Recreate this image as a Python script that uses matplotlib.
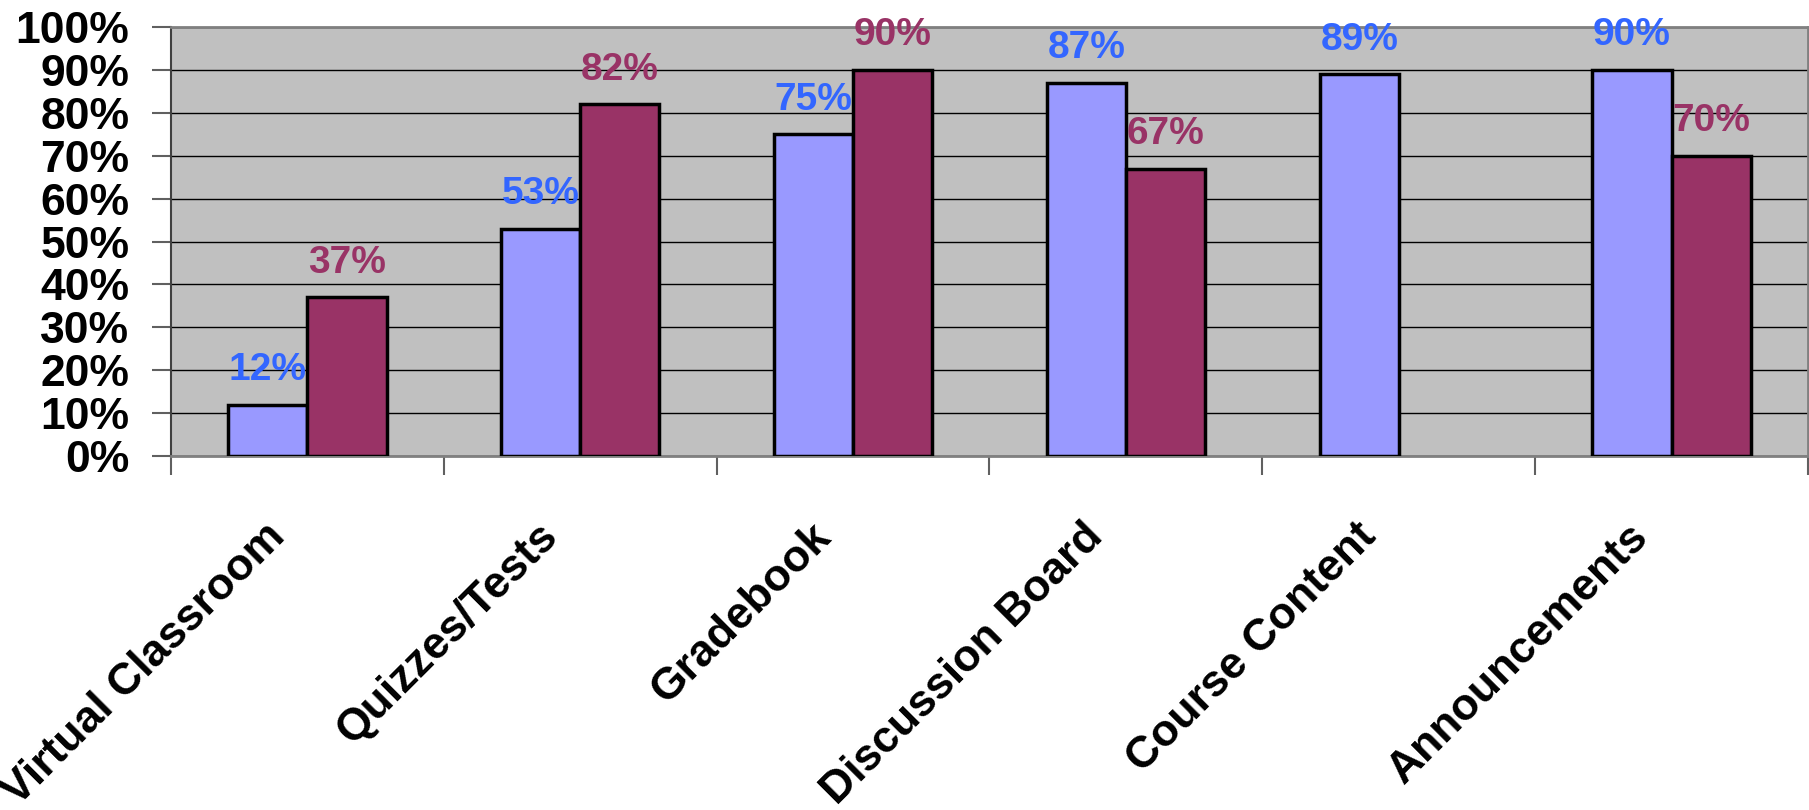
import matplotlib
matplotlib.use("Agg")
import matplotlib.pyplot as plt
import matplotlib.transforms as mtransforms
import numpy as np

categories = ["Virtual Classroom", "Quizzes/Tests", "Gradebook", "Discussion Board", "Course Content", "Announcements"]
series1 = [12, 53, 75, 87, 89, 90]
series2 = [37, 82, 90, 67, None, 70]
yticks = [0, 10, 20, 30, 40, 50, 60, 70, 80, 90, 100]
ytick_labels = [f"{v}%" for v in yticks]

plt.rcParams['font.family'] = ['Liberation Sans', 'DejaVu Sans']

fig = plt.figure(figsize=(18.09, 8.10), dpi=100)
ax = fig.add_axes([171/1809, 1 - 456/810, (1808 - 171)/1809, (456 - 27)/810])
ax.set_facecolor('#C0C0C0')

x = np.arange(len(categories))
w = 0.29
c1, c2 = '#9999FF', '#993366'
lc1, lc2 = '#3366FF', '#993366'

for i, v in enumerate(series1):
    if v is None:
        continue
    ax.bar(x[i] - w/2, v, width=w, color=c1, edgecolor='black', linewidth=2.5, zorder=3)
    ax.annotate(f"{v}%", (x[i] - w/2, v), xytext=(0, 12), textcoords='offset points',
                ha='center', va='bottom', fontsize=28, fontweight='bold', color=lc1, zorder=4)
for i, v in enumerate(series2):
    if v is None:
        continue
    ax.bar(x[i] + w/2, v, width=w, color=c2, edgecolor='black', linewidth=2.5, zorder=3)
    ax.annotate(f"{v}%", (x[i] + w/2, v), xytext=(0, 12), textcoords='offset points',
                ha='center', va='bottom', fontsize=28, fontweight='bold', color=lc2, zorder=4)

ax.set_xlim(-0.5, len(categories) - 0.5)
ax.set_ylim(0, 100)
ax.set_yticks(yticks)
ax.set_yticklabels(ytick_labels, fontsize=32, fontweight='bold')
ax.yaxis.grid(True, color='black', linewidth=1.0, zorder=1)
ax.set_axisbelow(True)

ax.set_xticks(np.arange(-0.5, len(categories), 1.0))
ax.set_xticklabels([])
ax.set_xticks(x, minor=True)
ax.set_xticklabels(categories, minor=True, rotation=45, ha='right', va='center',
                   rotation_mode='anchor', fontsize=32, fontweight='bold')
ax.tick_params(axis='x', which='minor', length=0, pad=62)
ax.tick_params(axis='x', which='major', length=14, width=1.5, color='#606060')
ax.tick_params(axis='y', length=14, width=1.5, color='#606060', pad=16)

offset = mtransforms.ScaledTranslation(-29/100, 12/100, fig.dpi_scale_trans)
for lab in ax.get_xticklabels(minor=True):
    lab.set_transform(lab.get_transform() + offset)

for s in ['top', 'right']:
    ax.spines[s].set_color('#808080')
    ax.spines[s].set_linewidth(2)
ax.spines['left'].set_color('#404040')
ax.spines['left'].set_linewidth(1.5)
ax.spines['bottom'].set_color('#808080')
ax.spines['bottom'].set_linewidth(2)

fig.savefig("out.png", dpi=100)
